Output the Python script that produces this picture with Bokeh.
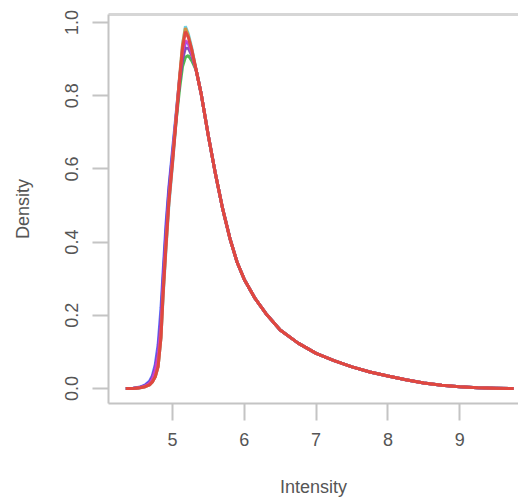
from bokeh.plotting import figure
from bokeh.models import FixedTicker, PrintfTickFormatter, LinearAxis, Range1d
from bokeh.embed import file_html
from bokeh.resources import INLINE

# ---- data ----
x_vals = [4.35, 4.45, 4.55, 4.62, 4.68, 4.72, 4.76, 4.80, 4.84, 4.87, 4.91, 4.95,
          5.00, 5.05, 5.10, 5.14, 5.18, 5.22, 5.27,
          5.33, 5.40, 5.50, 5.60, 5.70, 5.80, 5.90, 6.00, 6.15, 6.30, 6.50, 6.75,
          7.00, 7.25, 7.50, 7.75, 8.00, 8.25, 8.50, 8.75, 9.00, 9.25, 9.50, 9.75]

# common right-hand tail (x >= 5.33), all curves coincide there
tail = [0.87, 0.805, 0.69, 0.585, 0.49, 0.41, 0.345, 0.298, 0.246, 0.205, 0.16,
        0.124, 0.096, 0.076, 0.059, 0.045, 0.034, 0.024, 0.015, 0.009, 0.005,
        0.002, 0.001, 0.0]

cyan_d = [0, 0, 0.002, 0.005, 0.010, 0.018, 0.032, 0.06, 0.14, 0.25, 0.38, 0.50,
          0.61, 0.73, 0.85, 0.94, 0.99, 0.97, 0.93] + tail
green_d = [0, 0, 0.003, 0.008, 0.016, 0.028, 0.05, 0.09, 0.18, 0.29, 0.42, 0.53,
           0.63, 0.73, 0.82, 0.88, 0.905, 0.91, 0.895] + tail
blue_d = [0, 0.001, 0.004, 0.010, 0.020, 0.035, 0.065, 0.12, 0.22, 0.32, 0.45, 0.55,
          0.65, 0.75, 0.85, 0.91, 0.945, 0.945, 0.915] + tail
purple_d = [0, 0, 0.003, 0.008, 0.016, 0.030, 0.055, 0.10, 0.19, 0.30, 0.43, 0.54,
            0.64, 0.74, 0.84, 0.90, 0.93, 0.93, 0.91] + tail
magenta_d = [0, 0, 0.003, 0.007, 0.014, 0.026, 0.05, 0.09, 0.17, 0.28, 0.41, 0.52,
             0.63, 0.74, 0.85, 0.92, 0.95, 0.945, 0.915] + tail
orange_d = [0, 0, 0.002, 0.005, 0.010, 0.018, 0.032, 0.06, 0.14, 0.26, 0.39, 0.51,
            0.62, 0.74, 0.855, 0.94, 0.985, 0.965, 0.925] + tail
red_d = [0, 0, 0.002, 0.005, 0.010, 0.018, 0.032, 0.06, 0.14, 0.26, 0.39, 0.51,
         0.615, 0.73, 0.845, 0.93, 0.975, 0.96, 0.925] + tail

series = [
    ("#5ccfe6", cyan_d),
    ("#40b040", green_d),
    ("#4a5cff", blue_d),
    ("#7a3fb0", purple_d),
    ("#d040d0", magenta_d),
    ("#e08a30", orange_d),
    ("#e04040", red_d),
]

x_ticks = [5, 6, 7, 8, 9]
y_ticks = [0.0, 0.2, 0.4, 0.6, 0.8, 1.0]

AXIS_COL = "#c4c4c4"
TEXT_COL = "#555555"
FONT = "Liberation Sans"

p = figure(width=518, height=501, output_backend="svg", toolbar_location=None,
           x_range=Range1d(4.109, 9.819), y_range=Range1d(-0.041, 1.022),
           min_border_left=108, min_border_right=0, min_border_top=14,
           min_border_bottom=98, x_axis_label="Intensity", y_axis_label="Density")
p.outline_line_color = None
p.grid.visible = False
p.background_fill_color = "white"
p.border_fill_color = "white"

for col, d in series:
    p.line(x_vals, d, line_color=col, line_width=3, line_alpha=0.9)

for ax in (p.xaxis[0], p.yaxis[0]):
    ax.axis_line_color = AXIS_COL
    ax.axis_line_width = 2
    ax.major_tick_line_color = AXIS_COL
    ax.major_tick_line_width = 2
    ax.major_tick_in = 0
    ax.minor_tick_line_color = None
    ax.major_label_text_color = TEXT_COL
    ax.major_label_text_font = FONT
    ax.major_label_text_font_size = "18px"
    ax.axis_label_text_color = TEXT_COL
    ax.axis_label_text_font = FONT
    ax.axis_label_text_font_size = "18px"
    ax.axis_label_text_font_style = "normal"

p.xaxis[0].ticker = FixedTicker(ticks=x_ticks)
p.xaxis[0].major_tick_out = 17
p.xaxis[0].major_label_standoff = 12
p.xaxis[0].axis_label_standoff = 28

p.yaxis[0].ticker = FixedTicker(ticks=y_ticks)
p.yaxis[0].formatter = PrintfTickFormatter(format="%.1f")
p.yaxis[0].major_tick_out = 16
p.yaxis[0].major_label_standoff = 14
p.yaxis[0].major_label_orientation = "vertical"
p.yaxis[0].axis_label_standoff = 30

top = LinearAxis(ticker=FixedTicker(ticks=[]), axis_line_color="#d6d6d6",
                 axis_line_width=3, major_tick_line_color=None,
                 minor_tick_line_color=None, major_label_text_font_size="0px")
p.add_layout(top, "above")

open("out.html", "w").write(file_html(p, INLINE))
